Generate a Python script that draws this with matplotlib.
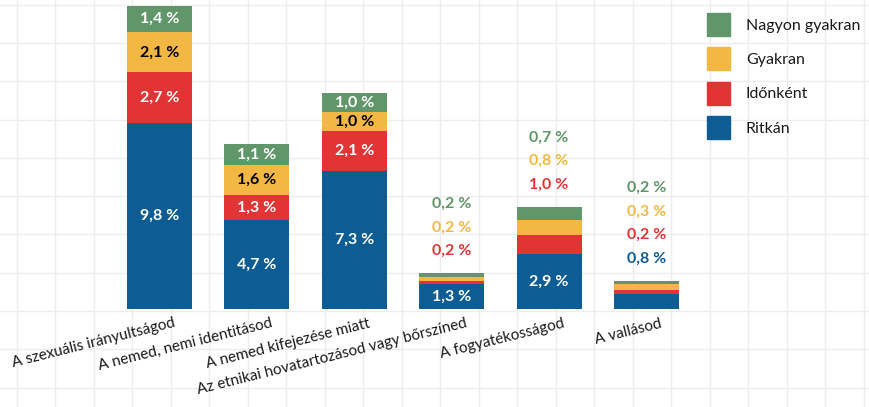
import numpy as np
import matplotlib
matplotlib.use('Agg')
import matplotlib.pyplot as plt
from matplotlib.patches import Patch

plt.rcParams['font.family'] = ['Lato', 'DejaVu Sans']

categories = ['A szexuális irányultságod', 'A nemed, nemi identitásod',
              'A nemed kifejezése miatt',
              'Az etnikai hovatartozásod vagy bőrszíned',
              'A fogyatékosságod', 'A vallásod']
series = ['Ritkán', 'Időnként', 'Gyakran', 'Nagyon gyakran']
ritkan = [9.8, 4.7, 7.3, 1.3, 2.9, 0.8]
idonkent = [2.7, 1.3, 2.1, 0.2, 1.0, 0.2]
gyakran = [2.1, 1.6, 1.0, 0.2, 0.8, 0.3]
nagyon = [1.4, 1.1, 1.0, 0.2, 0.7, 0.2]
# how many segments (from the bottom) carry their label inside the bar
inside_count = [4, 4, 4, 1, 1, 0]

colors = ['#0e5c94', '#e23435', '#f3b843', '#609669']
values = [ritkan, idonkent, gyakran, nagyon]

W, H = 870, 407
fig = plt.figure(figsize=(W / 100, H / 100), dpi=100)

# graph paper background
bg = fig.add_axes([0, 0, 1, 1], zorder=0)
bg.set_xlim(0, W)
bg.set_ylim(H, 0)
bg.axis('off')
for gx in np.arange(17, W, 38.5):
    bg.axvline(gx, color='#ededed', lw=1)
for gy in np.arange(4.7, H, 38.3):
    bg.axhline(gy, color='#ededed', lw=1)

ax = fig.add_axes([0, 98 / H, 1, 309 / H], zorder=1)
ax.patch.set_alpha(0)
px = 97.4
ax.set_xlim(-159.5 / px, (W - 159.5) / px)
unit = 18.94
ax.set_ylim(0, 309 / unit)
ax.axis('off')

x = np.arange(len(categories))
bottom = np.zeros(len(categories))
for k, (vals, col) in enumerate(zip(values, colors)):
    ax.bar(x, vals, bottom=bottom, width=65 / px, color=col, label=series[k])
    bottom += np.array(vals)

def fmt(v):
    return f'{v:.1f}'.replace('.', ',') + ' %'

totals = bottom
for i in x:
    base = 0.0
    n_out = 0
    for k, vals in enumerate(values):
        v = vals[i]
        if k < inside_count[i]:
            tc = 'black' if k == 2 else 'white'
            ax.text(i, base + v / 2, fmt(v), ha='center', va='center',
                    color=tc, fontsize=11.5, fontweight='bold')
        else:
            yy = totals[i] + 22 / unit + n_out * 23.5 / unit
            ax.text(i, yy, fmt(v), ha='center', va='center',
                    color=colors[k], fontsize=11.5, fontweight='bold')
            n_out += 1
        base += v

for i, lab in enumerate(categories):
    ax.annotate(lab, xy=(i, 0), xytext=(16, -18), textcoords='offset pixels',
                ha='right', va='baseline', rotation=14, rotation_mode='anchor',
                fontsize=11, color='#1a1a1a', annotation_clip=False)

handles = [Patch(color=c) for c in colors[::-1]]
leg = fig.legend(handles, series[::-1], loc='upper left',
                 bbox_to_anchor=(707 / W, 1 - 13 / H), frameon=False,
                 fontsize=11.5, handlelength=1.44, handleheight=1.84,
                 labelspacing=0.71, handletextpad=1.0, borderpad=0,
                 borderaxespad=0)
for t in leg.get_texts():
    t.set_color('#1a1a1a')

fig.savefig('out.png', dpi=100)
plt.close(fig)
